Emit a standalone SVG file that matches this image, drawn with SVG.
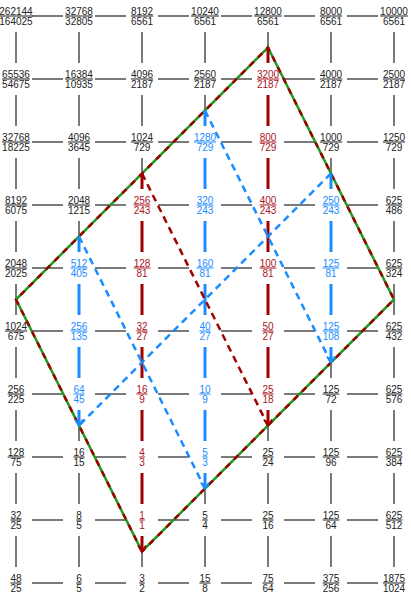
<svg xmlns="http://www.w3.org/2000/svg" width="411" height="599" viewBox="0 0 411 599">
<defs>
<style>
.grid{stroke:#7a7a7a;stroke-width:2;stroke-dasharray:31 32;fill:none}
.red{stroke:#a00000;stroke-width:3;fill:none}
.blue{stroke:#1a8cff;stroke-width:3;fill:none}
.dred{stroke:#a00000;stroke-width:2.5;stroke-dasharray:7 5;fill:none}
.dblue{stroke:#1a8cff;stroke-width:2.5;stroke-dasharray:7 5;fill:none}
.pg{stroke:#1f9a1f;stroke-width:2.5;fill:none;stroke-linejoin:miter}
.pr{stroke:#a00000;stroke-width:2.5;fill:none;stroke-dasharray:6 6}
text{font-family:"Liberation Sans",Arial,sans-serif;font-size:10px;text-anchor:middle;fill:#222}
.n{text-decoration:underline}
.r text{fill:#a8141e}
.b text{fill:#1a8cff}
</style>
<marker id="ar" viewBox="-8 -6 10 12" markerWidth="10" markerHeight="12" markerUnits="userSpaceOnUse" refX="0" refY="0" orient="auto"><path d="M-6,-4 L0,0 L-6,4" fill="none" stroke="#a00000" stroke-width="2"/></marker>
<marker id="ab" viewBox="-8 -6 10 12" markerWidth="10" markerHeight="12" markerUnits="userSpaceOnUse" refX="0" refY="0" orient="auto"><path d="M-6,-4 L0,0 L-6,4" fill="none" stroke="#1a8cff" stroke-width="2"/></marker>
</defs>
<rect width="411" height="599" fill="#fff"/>
<g id="connectors">
<g id="grid">
<line class="grid" x1="32" y1="16" x2="378" y2="16"/>
<line class="grid" x1="32" y1="79" x2="378" y2="79"/>
<line class="grid" x1="32" y1="142" x2="378" y2="142"/>
<line class="grid" x1="32" y1="205" x2="378" y2="205"/>
<line class="grid" x1="32" y1="268" x2="378" y2="268"/>
<line class="grid" x1="32" y1="331" x2="378" y2="331"/>
<line class="grid" x1="32" y1="394" x2="378" y2="394"/>
<line class="grid" x1="32" y1="457" x2="378" y2="457"/>
<line class="grid" x1="32" y1="520" x2="378" y2="520"/>
<line class="grid" x1="32" y1="583" x2="378" y2="583"/>
<line class="grid" x1="16" y1="32" x2="16" y2="567"/>
<line class="grid" x1="79" y1="32" x2="79" y2="567"/>
<line class="grid" x1="142" y1="32" x2="142" y2="567"/>
<line class="grid" x1="205" y1="32" x2="205" y2="567"/>
<line class="grid" x1="268" y1="32" x2="268" y2="567"/>
<line class="grid" x1="331" y1="32" x2="331" y2="567"/>
<line class="grid" x1="394" y1="32" x2="394" y2="567"/>
</g>
<g id="lozenge">
<path class="pg" d="M142,551.5 L16,299.5 L268,47.5 L394,299.5 Z"/>
<path class="pr" d="M142,551.5 L16,299.5 L268,47.5 L394,299.5 Z"/>
</g>
<path class="red" marker-end="url(#ar)" d="M142,173.5 V189 M142,221 V252 M142,284 V315 M142,347 V378 M142,410 V441 M142,473 V504 M142,536 V551.5"/>
<path class="red" marker-end="url(#ar)" d="M268,47.5 V63 M268,95 V126 M268,158 V189 M268,221 V252 M268,284 V315 M268,347 V378 M268,410 V425.5"/>
<path class="blue" marker-end="url(#ab)" d="M205,110.5 V126 M205,158 V189 M205,221 V252 M205,284 V315 M205,347 V378 M205,410 V441 M205,473 V488.5"/>
<path class="blue" marker-end="url(#ab)" d="M331,173.5 V189 M331,221 V252 M331,284 V315 M331,347 V362.5"/>
<path class="blue" marker-end="url(#ab)" d="M79,236.5 V252 M79,284 V315 M79,347 V378 M79,410 V425.5"/>
<line class="dred" x1="142" y1="173.5" x2="268" y2="425.5"/>
<line class="dblue" x1="205" y1="110.5" x2="331" y2="362.5"/>
<line class="dblue" x1="331" y1="173.5" x2="79" y2="425.5"/>
<line class="dblue" x1="79" y1="236.5" x2="205" y2="488.5"/>
</g>
<g id="nodes">
<g id="n0_0"><text class="n" x="16" y="14.5">262144</text><text x="16" y="25">164025</text></g>
<g id="n0_1"><text class="n" x="79" y="14.5">32768</text><text x="79" y="25">32805</text></g>
<g id="n0_2"><text class="n" x="142" y="14.5">8192</text><text x="142" y="25">6561</text></g>
<g id="n0_3"><text class="n" x="205" y="14.5">10240</text><text x="205" y="25">6561</text></g>
<g id="n0_4"><text class="n" x="268" y="14.5">12800</text><text x="268" y="25">6561</text></g>
<g id="n0_5"><text class="n" x="331" y="14.5">8000</text><text x="331" y="25">6561</text></g>
<g id="n0_6"><text class="n" x="394" y="14.5">10000</text><text x="394" y="25">6561</text></g>

<g id="n1_0"><text class="n" x="16" y="77.5">65536</text><text x="16" y="88">54675</text></g>
<g id="n1_1"><text class="n" x="79" y="77.5">16384</text><text x="79" y="88">10935</text></g>
<g id="n1_2"><text class="n" x="142" y="77.5">4096</text><text x="142" y="88">2187</text></g>
<g id="n1_3"><text class="n" x="205" y="77.5">2560</text><text x="205" y="88">2187</text></g>
<g id="n1_4" class="r"><text class="n" x="268" y="77.5">3200</text><text x="268" y="88">2187</text></g>
<g id="n1_5"><text class="n" x="331" y="77.5">4000</text><text x="331" y="88">2187</text></g>
<g id="n1_6"><text class="n" x="394" y="77.5">2500</text><text x="394" y="88">2187</text></g>

<g id="n2_0"><text class="n" x="16" y="140.5">32768</text><text x="16" y="151">18225</text></g>
<g id="n2_1"><text class="n" x="79" y="140.5">4096</text><text x="79" y="151">3645</text></g>
<g id="n2_2"><text class="n" x="142" y="140.5">1024</text><text x="142" y="151">729</text></g>
<g id="n2_3" class="b"><text class="n" x="205" y="140.5">1280</text><text x="205" y="151">729</text></g>
<g id="n2_4" class="r"><text class="n" x="268" y="140.5">800</text><text x="268" y="151">729</text></g>
<g id="n2_5"><text class="n" x="331" y="140.5">1000</text><text x="331" y="151">729</text></g>
<g id="n2_6"><text class="n" x="394" y="140.5">1250</text><text x="394" y="151">729</text></g>

<g id="n3_0"><text class="n" x="16" y="203.5">8192</text><text x="16" y="214">6075</text></g>
<g id="n3_1"><text class="n" x="79" y="203.5">2048</text><text x="79" y="214">1215</text></g>
<g id="n3_2" class="r"><text class="n" x="142" y="203.5">256</text><text x="142" y="214">243</text></g>
<g id="n3_3" class="b"><text class="n" x="205" y="203.5">320</text><text x="205" y="214">243</text></g>
<g id="n3_4" class="r"><text class="n" x="268" y="203.5">400</text><text x="268" y="214">243</text></g>
<g id="n3_5" class="b"><text class="n" x="331" y="203.5">250</text><text x="331" y="214">243</text></g>
<g id="n3_6"><text class="n" x="394" y="203.5">625</text><text x="394" y="214">486</text></g>

<g id="n4_0"><text class="n" x="16" y="266.5">2048</text><text x="16" y="277">2025</text></g>
<g id="n4_1" class="b"><text class="n" x="79" y="266.5">512</text><text x="79" y="277">405</text></g>
<g id="n4_2" class="r"><text class="n" x="142" y="266.5">128</text><text x="142" y="277">81</text></g>
<g id="n4_3" class="b"><text class="n" x="205" y="266.5">160</text><text x="205" y="277">81</text></g>
<g id="n4_4" class="r"><text class="n" x="268" y="266.5">100</text><text x="268" y="277">81</text></g>
<g id="n4_5" class="b"><text class="n" x="331" y="266.5">125</text><text x="331" y="277">81</text></g>
<g id="n4_6"><text class="n" x="394" y="266.5">625</text><text x="394" y="277">324</text></g>

<g id="n5_0"><text class="n" x="16" y="329.5">1024</text><text x="16" y="340">675</text></g>
<g id="n5_1" class="b"><text class="n" x="79" y="329.5">256</text><text x="79" y="340">135</text></g>
<g id="n5_2" class="r"><text class="n" x="142" y="329.5">32</text><text x="142" y="340">27</text></g>
<g id="n5_3" class="b"><text class="n" x="205" y="329.5">40</text><text x="205" y="340">27</text></g>
<g id="n5_4" class="r"><text class="n" x="268" y="329.5">50</text><text x="268" y="340">27</text></g>
<g id="n5_5" class="b"><text class="n" x="331" y="329.5">125</text><text x="331" y="340">108</text></g>
<g id="n5_6"><text class="n" x="394" y="329.5">625</text><text x="394" y="340">432</text></g>

<g id="n6_0"><text class="n" x="16" y="392.5">256</text><text x="16" y="403">225</text></g>
<g id="n6_1" class="b"><text class="n" x="79" y="392.5">64</text><text x="79" y="403">45</text></g>
<g id="n6_2" class="r"><text class="n" x="142" y="392.5">16</text><text x="142" y="403">9</text></g>
<g id="n6_3" class="b"><text class="n" x="205" y="392.5">10</text><text x="205" y="403">9</text></g>
<g id="n6_4" class="r"><text class="n" x="268" y="392.5">25</text><text x="268" y="403">18</text></g>
<g id="n6_5"><text class="n" x="331" y="392.5">125</text><text x="331" y="403">72</text></g>
<g id="n6_6"><text class="n" x="394" y="392.5">625</text><text x="394" y="403">576</text></g>

<g id="n7_0"><text class="n" x="16" y="455.5">128</text><text x="16" y="466">75</text></g>
<g id="n7_1"><text class="n" x="79" y="455.5">16</text><text x="79" y="466">15</text></g>
<g id="n7_2" class="r"><text class="n" x="142" y="455.5">4</text><text x="142" y="466">3</text></g>
<g id="n7_3" class="b"><text class="n" x="205" y="455.5">5</text><text x="205" y="466">3</text></g>
<g id="n7_4"><text class="n" x="268" y="455.5">25</text><text x="268" y="466">24</text></g>
<g id="n7_5"><text class="n" x="331" y="455.5">125</text><text x="331" y="466">96</text></g>
<g id="n7_6"><text class="n" x="394" y="455.5">625</text><text x="394" y="466">384</text></g>

<g id="n8_0"><text class="n" x="16" y="518.5">32</text><text x="16" y="529">25</text></g>
<g id="n8_1"><text class="n" x="79" y="518.5">8</text><text x="79" y="529">5</text></g>
<g id="n8_2" class="r"><text class="n" x="142" y="518.5">1</text><text x="142" y="529">1</text></g>
<g id="n8_3"><text class="n" x="205" y="518.5">5</text><text x="205" y="529">4</text></g>
<g id="n8_4"><text class="n" x="268" y="518.5">25</text><text x="268" y="529">16</text></g>
<g id="n8_5"><text class="n" x="331" y="518.5">125</text><text x="331" y="529">64</text></g>
<g id="n8_6"><text class="n" x="394" y="518.5">625</text><text x="394" y="529">512</text></g>

<g id="n9_0"><text class="n" x="16" y="581.5">48</text><text x="16" y="592">25</text></g>
<g id="n9_1"><text class="n" x="79" y="581.5">6</text><text x="79" y="592">5</text></g>
<g id="n9_2"><text class="n" x="142" y="581.5">3</text><text x="142" y="592">2</text></g>
<g id="n9_3"><text class="n" x="205" y="581.5">15</text><text x="205" y="592">8</text></g>
<g id="n9_4"><text class="n" x="268" y="581.5">75</text><text x="268" y="592">64</text></g>
<g id="n9_5"><text class="n" x="331" y="581.5">375</text><text x="331" y="592">256</text></g>
<g id="n9_6"><text class="n" x="394" y="581.5">1875</text><text x="394" y="592">1024</text></g>
</g>
</svg>
